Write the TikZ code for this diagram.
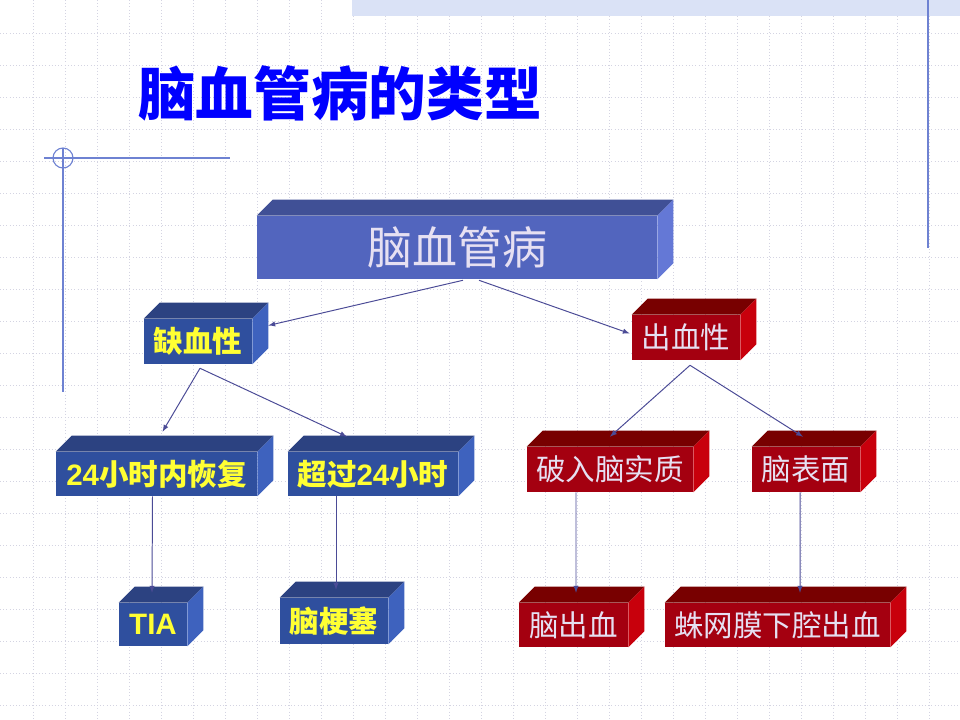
\documentclass[tikz,border=0pt]{standalone}
\usepackage{fontspec}
\setmainfont{Noto Sans CJK SC}
\newfontfamily\arial{Liberation Sans}
\usetikzlibrary{arrows}

\definecolor{titleblue}{RGB}{0,0,255}
\definecolor{gridgray}{RGB}{212,212,226}
\definecolor{decoblue}{RGB}{110,130,210}
\definecolor{bandblue}{RGB}{218,226,246}
\definecolor{linkblue}{RGB}{75,75,150}
\definecolor{frontA}{RGB}{82,101,190}
\definecolor{topA}{RGB}{64,80,150}
\definecolor{sideA}{RGB}{100,120,214}
\definecolor{frontB}{RGB}{47,79,158}
\definecolor{topB}{RGB}{44,66,129}
\definecolor{sideB}{RGB}{62,98,190}
\definecolor{frontR}{RGB}{164,0,16}
\definecolor{topR}{RGB}{120,0,0}
\definecolor{sideR}{RGB}{200,0,12}
\definecolor{txtyellow}{RGB}{255,255,51}
\definecolor{txtlight}{RGB}{230,224,242}

\newdimen\px \px=0.025cm

\begin{document}
\begin{tikzpicture}[x=1\px,y=-1\px,
  grid line/.style={draw=gridgray,line width=0.5pt,dash pattern=on 0.5pt off 1.8pt},
  deco/.style={draw=decoblue,line width=0.8pt},
  topbox/.style={fill=frontA,text=txtlight,inner sep=0pt,font=\fontsize{32}{32}\selectfont},
  bluebox/.style={fill=frontB,text=txtyellow,inner sep=0pt,font=\bfseries\fontsize{21}{21}\selectfont},
  redbox/.style={fill=frontR,text=txtlight,inner sep=0pt,font=\fontsize{21}{21}\selectfont},
  link/.style={draw=linkblue,line width=0.7pt,-latex}]
\useasboundingbox (0,0) rectangle (960,720);

% background
\foreach \gx in {33,65,...,929} \draw[grid line] (\gx,0) -- (\gx,720);
\foreach \gy in {33,65,...,705} \draw[grid line] (0,\gy) -- (960,\gy);
\fill[bandblue] (352,0) rectangle (960,16);
\draw[deco] (928,0) -- (928,248);
\draw[deco] (44,158) -- (230,158);
\draw[deco] (63,148) -- (63,392);
\draw[deco] (63,158) circle[radius=10];

\node[font=\bfseries\fontsize{41}{41}\selectfont,text=titleblue] (title) at (340,93) {脑血管病的类型};

% boxes
\node[topbox,minimum width=400\px,minimum height=63\px] (cvd) at (457,247.5) {脑血管病};
\node[bluebox,minimum width=108\px,minimum height=45\px] (isch) at (198,341.5) {缺血性};
\node[redbox,minimum width=108\px,minimum height=45\px] (hem) at (686,337.5) {出血性};
\node[bluebox,minimum width=201\px,minimum height=44\px] (tia24) at (156.5,474) {{\arial 24}小时内恢复};
\node[bluebox,minimum width=170\px,minimum height=44\px] (over24) at (373,474) {超过{\arial 24}小时};
\node[redbox,minimum width=166\px,minimum height=45\px] (parench) at (610,469.5) {破入脑实质};
\node[redbox,minimum width=108\px,minimum height=45\px] (surface) at (806,469.5) {脑表面};
\node[bluebox,minimum width=68\px,minimum height=43\px] (tia) at (153,624.5) {\arial TIA};
\node[bluebox,minimum width=108\px,minimum height=46\px] (infarct) at (334,621) {脑梗塞};
\node[redbox,minimum width=109\px,minimum height=44\px] (ich) at (573.5,625) {脑出血};
\node[redbox,minimum width=225\px,minimum height=44\px] (sah) at (777.5,625) {蛛网膜下腔出血};

\foreach \n/\tc/\sc in {cvd/topA/sideA,isch/topB/sideB,tia24/topB/sideB,over24/topB/sideB,
    tia/topB/sideB,infarct/topB/sideB,hem/topR/sideR,parench/topR/sideR,
    surface/topR/sideR,ich/topR/sideR,sah/topR/sideR}{
  \fill[\tc] (\n.north west) -- ++(16,-16) -- ([shift={(16,-16)}]\n.north east) -- (\n.north east) -- cycle;
  \fill[\sc] (\n.north east) -- ++(16,-16) -- ([shift={(16,-16)}]\n.south east) -- (\n.south east) -- cycle;
}

% links
\draw[link] ([shift={(6,1)}]cvd.south) -- ([shift={(16,-16)}]isch.east);
\draw[link] ([shift={(22,1)}]cvd.south) -- ([shift={(-2,-4)}]hem.west);
\draw[link] ([shift={(2,4)}]isch.south) -- ([shift={(6,-20)}]tia24.north);
\draw[link] ([shift={(2,4)}]isch.south) -- ([shift={(-26,-15)}]over24.north);
\draw[link] ([shift={(4,5)}]hem.south) -- ([shift={(0,-10)}]parench.north);
\draw[link] ([shift={(4,5)}]hem.south) -- ([shift={(-3,-10)}]surface.north);
\draw[link] ([shift={(-4,0)}]tia24.south) -- ([shift={(-1,-10)}]tia.north);
\draw[link] ([shift={(-37,0)}]over24.south) -- ([shift={(2,-8)}]infarct.north);
\draw[link] ([shift={(-34,0)}]parench.south) -- ([shift={(2.5,-10)}]ich.north);
\draw[link] ([shift={(-6,0)}]surface.south) -- ([shift={(22.5,-10)}]sah.north);
\end{tikzpicture}
\end{document}
